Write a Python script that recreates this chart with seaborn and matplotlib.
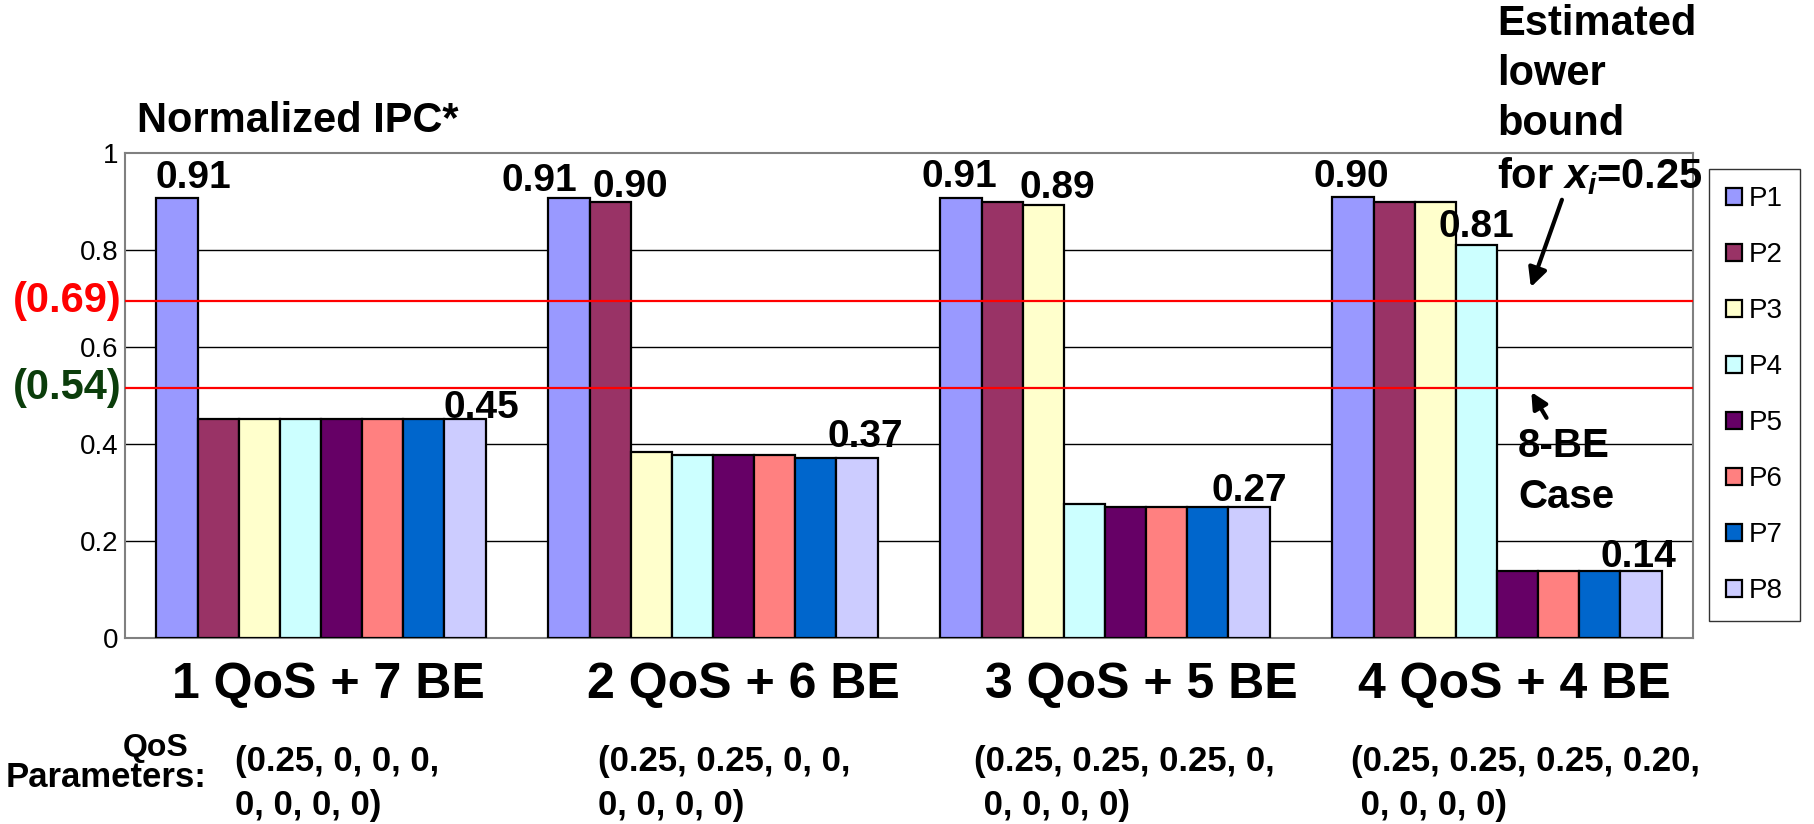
import pandas as pd
import matplotlib
matplotlib.use("Agg")
import matplotlib.pyplot as plt
import matplotlib.transforms as mtransforms
import seaborn as sns

# data
groups = ["1 QoS + 7 BE", "2 QoS + 6 BE", "3 QoS + 5 BE", "4 QoS + 4 BE"]
procs = ["P1", "P2", "P3", "P4", "P5", "P6", "P7", "P8"]
g1 = [0.907, 0.451, 0.451, 0.451, 0.451, 0.451, 0.451, 0.451]
g2 = [0.908, 0.899, 0.383, 0.378, 0.378, 0.378, 0.371, 0.371]
g3 = [0.908, 0.899, 0.892, 0.277, 0.271, 0.271, 0.271, 0.271]
g4 = [0.910, 0.899, 0.899, 0.810, 0.138, 0.138, 0.138, 0.138]
qos_params = ["(0.25, 0, 0, 0,\n0, 0, 0, 0)",
              "(0.25, 0.25, 0, 0,\n0, 0, 0, 0)",
              "(0.25, 0.25, 0.25, 0,\n 0, 0, 0, 0)",
              "(0.25, 0.25, 0.25, 0.20,\n 0, 0, 0, 0)"]
# (group, process, label) for the printed values
value_labels = [(0, 0, "0.91"), (0, 7, "0.45"),
                (1, 0, "0.91"), (1, 1, "0.90"), (1, 7, "0.37"),
                (2, 0, "0.91"), (2, 2, "0.89"), (2, 7, "0.27"),
                (3, 0, "0.90"), (3, 3, "0.81"), (3, 7, "0.14")]
bound_qos = 0.695   # "(0.69)"
bound_be = 0.516    # "(0.54)"

colors = ["#9999FF", "#993366", "#FFFFCC", "#CCFFFF",
          "#660066", "#FF8080", "#0066CC", "#CCCCFF"]

rows = []
for g, vals in zip(groups, [g1, g2, g3, g4]):
    for p, v in zip(procs, vals):
        rows.append(dict(group=g, proc=p, ipc=v))
df = pd.DataFrame(rows)

sns.set_style("white")
plt.rcParams["font.family"] = ["Liberation Sans", "DejaVu Sans"]
plt.rcParams["text.color"] = "black"
plt.rcParams["xtick.color"] = "black"
plt.rcParams["ytick.color"] = "black"
plt.rcParams["mathtext.fontset"] = "custom"
plt.rcParams["mathtext.it"] = "Liberation Sans:bold:italic"
plt.rcParams["mathtext.rm"] = "Liberation Sans:bold"

fig = plt.figure(figsize=(18.14, 8.24), dpi=100)
ax = fig.add_axes([125 / 1814, 1 - 638 / 824, 1568 / 1814, 485 / 824])

sns.barplot(data=df, x="group", y="ipc", hue="proc", palette=colors,
            width=0.84, gap=0, edgecolor="black", linewidth=1.6,
            saturation=1, ax=ax, zorder=3)

handles, labels = ax.get_legend_handles_labels()
ax.legend_.remove()

ax.set_ylim(0, 1)
ax.set_xlim(-0.5, 3.5)
ax.set_yticks([0, 0.2, 0.4, 0.6, 0.8, 1])
ax.set_yticklabels(["0", "0.2", "0.4", "0.6", "0.8", "1"], fontsize=20)
ax.tick_params(axis="y", length=0, pad=5)
for y in [0.2, 0.4, 0.6, 0.8]:
    ax.axhline(y, color="black", lw=1, zorder=1)
ax.set_xticks([0.5, 1.5, 2.5])
ax.set_xticklabels([])
ax.tick_params(axis="x", direction="in", length=8, width=1, color="#555555")
ax.set_xlabel("")
ax.set_ylabel("")
for s in ax.spines.values():
    s.set_color("#808080")
    s.set_linewidth(1.5)

# reference lines
ax.axhline(bound_qos, color="#FF0000", lw=1.6, zorder=4)
ax.axhline(bound_be, color="#FF0000", lw=1.6, zorder=4)
tr = mtransforms.blended_transform_factory(ax.transAxes, ax.transData)
ax.text(-0.002, bound_qos, "(0.69)", transform=tr, ha="right", va="center",
        fontsize=30, fontweight="bold", color="#FF0000")
ax.text(-0.002, bound_be, "(0.54)", transform=tr, ha="right", va="center",
        fontsize=30, fontweight="bold", color="#0B3D0B")

# value labels: (dx, gap) in pixels
nudge = {(0, 0): (16, 10), (0, 7): (16, 1), (1, 0): (-30, 7), (1, 1): (20, 5),
         (1, 7): (8, 11), (2, 0): (-2, 11), (2, 2): (14, 7), (2, 7): (0, 6),
         (3, 0): (-2, 10), (3, 3): (0, 8), (3, 7): (-3, 4)}
conts = ax.containers
for gi, pi, txt in value_labels:
    bar = conts[pi][gi]
    xc = bar.get_x() + bar.get_width() / 2
    ax.annotate(txt, (xc, bar.get_height()), xytext=nudge[(gi, pi)],
                textcoords="offset pixels", ha="center", va="baseline",
                fontsize=28, fontweight="bold", zorder=5)

# category labels and QoS parameters
label_dx = [0.02, 0.077, 0.092, 0.043]
param_dx = [-0.219, -0.293, -0.334, -0.372]
for i, (g, prm) in enumerate(zip(groups, qos_params)):
    ax.text(i + label_dx[i], -0.097, g, ha="center", va="center",
            fontsize=36, fontweight="bold")
    ax.text(i + param_dx[i], -0.3, prm, ha="left", va="center",
            fontsize=25, fontweight="bold", linespacing=1.45)
ax.text(-0.421, -0.226, "QoS", ha="center", va="center", fontsize=23, fontweight="bold")
ax.text(-0.293, -0.288, "Parameters:", ha="right", va="center", fontsize=25,
        fontweight="bold")

# annotations
ax.text(3.0, 0.928, "Estimated\nlower\nbound\nfor $x_i$=0.25", ha="left", va="baseline",
        fontsize=30, fontweight="bold", linespacing=1.33)
ax.annotate("", xy=(3.084, 0.718), xytext=(3.168, 0.909),
            arrowprops=dict(arrowstyle="-|>", color="black", lw=3, mutation_scale=28))
ax.text(3.054, 0.268, "8-BE\nCase", ha="left", va="baseline",
        fontsize=29, fontweight="bold", linespacing=1.44)
ax.annotate("", xy=(3.084, 0.512), xytext=(3.13, 0.449),
            arrowprops=dict(arrowstyle="-|>", color="black", lw=3, mutation_scale=24))

fig.text(137 / 1814, 1 - 121 / 824, "Normalized IPC*", ha="left", va="center",
         fontsize=30, fontweight="bold")

leg = fig.legend(handles, labels, loc="upper left", bbox_to_anchor=(1709 / 1814, 1 - 169 / 824),
                 borderaxespad=0, fontsize=20, handlelength=0.55, handleheight=0.55,
                 handletextpad=0.25, labelspacing=1.08, borderpad=0.62,
                 frameon=True, fancybox=False, edgecolor="black")
leg.get_frame().set_linewidth(1)

fig.savefig("out.png", dpi=100, facecolor="white")
